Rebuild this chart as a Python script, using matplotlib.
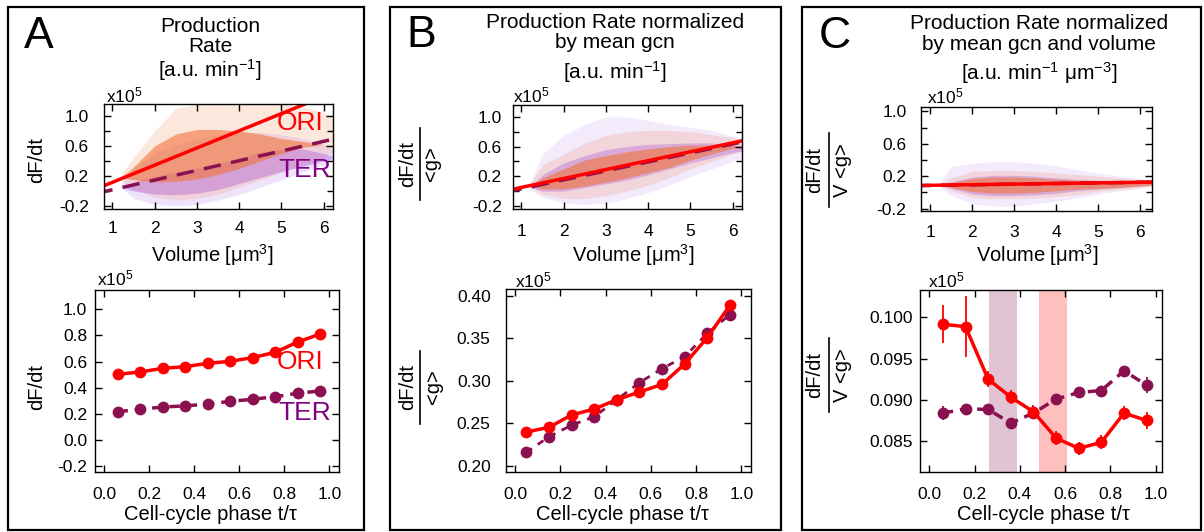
import matplotlib
matplotlib.use('Agg')
import matplotlib.pyplot as plt
import numpy as np
from matplotlib.lines import Line2D
from matplotlib.patches import Rectangle
from matplotlib.ticker import MultipleLocator, FormatStrFormatter, FixedLocator

plt.rcParams['font.family'] = ['Liberation Sans', 'DejaVu Sans']
plt.rcParams['mathtext.fontset'] = 'custom'
plt.rcParams['mathtext.rm'] = 'Liberation Sans'
plt.rcParams['mathtext.it'] = 'Liberation Sans:italic'
plt.rcParams['mathtext.default'] = 'regular'
plt.rcParams['axes.unicode_minus'] = False

# ---------------- data ----------------
phase_AC = [0.06, 0.16, 0.26, 0.36, 0.46, 0.56, 0.66, 0.76, 0.86, 0.96]
phase_B = [0.05, 0.15, 0.25, 0.35, 0.45, 0.55, 0.65, 0.75, 0.85, 0.95]

A_ori = [0.502, 0.520, 0.548, 0.561, 0.586, 0.602, 0.630, 0.671, 0.750, 0.811]
A_ter = [0.216, 0.234, 0.252, 0.260, 0.275, 0.295, 0.311, 0.331, 0.357, 0.375]

B_ori = [0.240, 0.2455, 0.260, 0.267, 0.278, 0.287, 0.296, 0.320, 0.351, 0.389]
B_ter = [0.216, 0.2345, 0.248, 0.258, 0.278, 0.298, 0.3145, 0.3286, 0.356, 0.378]

C_ori = [0.09916, 0.09887, 0.09252, 0.09035, 0.08858, 0.08540, 0.08416, 0.08488, 0.08842, 0.08753]
C_ori_err = [0.00227, 0.0037, 0.0010, 0.00085, 0.00087, 0.0008, 0.0008, 0.00085, 0.00087, 0.0010]
C_ter = [0.08842, 0.08894, 0.08886, 0.08721, 0.08842, 0.09011, 0.09091, 0.09115, 0.09353, 0.09180]
C_ter_err = [0.0008, 0.0005, 0.0005, 0.0005, 0.0005, 0.0005, 0.0005, 0.0005, 0.0005, 0.0010]

C_span_ter = (0.263, 0.387)
C_span_ori = (0.484, 0.607)

# linear fits (intercept, slope) vs volume
A_fit_ori = (-0.113, 0.229)
A_fit_ter = (-0.112, 0.129)
B_fit_ori = (-0.069, 0.120)
B_fit_ter = (-0.090, 0.121)
C_fit_ori = (0.080, 0.0075)
C_fit_ter = (0.078, 0.0078)

# scatter cloud envelopes: volume grid, outer & core bounds
vol_grid = [1.2, 1.5, 2.0, 2.5, 3.0, 3.5, 4.0, 4.5, 5.0, 5.5, 6.0, 6.3]

A_ori_out_lo = [0.15, 0.02, -0.08, -0.12, -0.10, -0.04, 0.05, 0.15, 0.25, 0.35, 0.45, 0.55]
A_ori_out_hi = [0.22, 0.45, 0.80, 1.10, 1.16, 1.16, 1.16, 1.16, 1.16, 1.12, 1.05, 0.95]
A_ori_core_lo = [0.18, 0.15, 0.12, 0.13, 0.16, 0.22, 0.30, 0.40, 0.50, 0.58, 0.62, 0.62]
A_ori_core_hi = [0.18, 0.32, 0.60, 0.76, 0.82, 0.82, 0.80, 0.76, 0.70, 0.66, 0.62, 0.62]
A_ter_out_lo = [0.05, -0.10, -0.18, -0.20, -0.18, -0.12, -0.05, 0.05, 0.15, 0.25, 0.35, 0.45]
A_ter_out_hi = [0.10, 0.30, 0.50, 0.62, 0.70, 0.75, 0.78, 0.78, 0.75, 0.70, 0.62, 0.55]
A_ter_core_lo = [0.05, 0.00, -0.04, -0.05, -0.03, 0.02, 0.10, 0.18, 0.26, 0.33, 0.40, 0.45]
A_ter_core_hi = [0.05, 0.12, 0.20, 0.25, 0.30, 0.36, 0.44, 0.52, 0.56, 0.56, 0.50, 0.45]

B_ori_out_lo = [0.05, -0.04, -0.10, -0.10, -0.06, 0.00, 0.08, 0.18, 0.30, 0.40, 0.50, 0.55]
B_ori_out_hi = [0.10, 0.35, 0.50, 0.65, 0.75, 0.80, 0.82, 0.82, 0.80, 0.76, 0.72, 0.68]
B_ori_core_lo = [0.07, 0.03, 0.03, 0.07, 0.12, 0.18, 0.25, 0.32, 0.42, 0.50, 0.58, 0.60]
B_ori_core_hi = [0.07, 0.18, 0.30, 0.42, 0.48, 0.53, 0.57, 0.60, 0.62, 0.62, 0.62, 0.60]
B_ter_out_lo = [0.02, -0.08, -0.16, -0.18, -0.16, -0.10, -0.02, 0.08, 0.20, 0.30, 0.40, 0.45]
B_ter_out_hi = [0.10, 0.50, 0.75, 0.90, 1.00, 1.00, 0.95, 0.90, 0.86, 0.82, 0.74, 0.70]
B_ter_core_lo = [0.05, 0.00, 0.00, 0.05, 0.10, 0.15, 0.22, 0.30, 0.38, 0.45, 0.52, 0.55]
B_ter_core_hi = [0.05, 0.22, 0.38, 0.48, 0.56, 0.60, 0.63, 0.64, 0.65, 0.65, 0.62, 0.60]

C_ori_out_lo = [0.08, 0.02, -0.06, -0.08, -0.08, -0.07, -0.05, -0.03, 0.01, 0.04, 0.06, 0.08]
C_ori_out_hi = [0.10, 0.18, 0.26, 0.27, 0.27, 0.26, 0.24, 0.22, 0.20, 0.18, 0.16, 0.13]
C_ori_core_lo = [0.09, 0.06, 0.01, -0.01, -0.01, 0.00, 0.02, 0.04, 0.05, 0.06, 0.08, 0.09]
C_ori_core_hi = [0.09, 0.12, 0.17, 0.19, 0.19, 0.18, 0.16, 0.15, 0.14, 0.13, 0.12, 0.11]
C_ter_out_lo = [0.08, -0.04, -0.14, -0.17, -0.17, -0.14, -0.11, -0.07, -0.02, 0.02, 0.05, 0.08]
C_ter_out_hi = [0.10, 0.32, 0.36, 0.38, 0.38, 0.36, 0.33, 0.28, 0.24, 0.20, 0.17, 0.14]
C_ter_core_lo = [0.09, 0.05, -0.02, -0.04, -0.04, -0.03, -0.01, 0.02, 0.04, 0.06, 0.08, 0.09]
C_ter_core_hi = [0.09, 0.13, 0.19, 0.21, 0.21, 0.20, 0.18, 0.16, 0.15, 0.14, 0.12, 0.11]

# ---------------- style ----------------
RED = '#ff0000'
TERC = '#8b1050'
TERTXT = '#800080'
ORANGE = '#f2733a'
PURPLE = '#9d55ee'

W, H = 1204, 532
fig = plt.figure(figsize=(W / 100, H / 100), dpi=100)


def rect(l, t, r, b):
    return [l / W, 1 - b / H, (r - l) / W, (b - t) / H]


def ftext(x, y, s, **kw):
    return fig.text(x / W, 1 - y / H, s, **kw)


def fline(x0, y0, x1, y1, lw=1.2):
    fig.add_artist(Line2D([x0 / W, x1 / W], [1 - y0 / H, 1 - y1 / H],
                          transform=fig.transFigure, color='black', lw=lw))


def frac_label(xn, xb, xd, yc, length, num, den, fs=14.5):
    ftext(xn, yc, num, rotation=90, ha='center', va='center', fontsize=fs)
    ftext(xd, yc, den, rotation=90, ha='center', va='center', fontsize=fs)
    fline(xb, yc - length / 2, xb, yc + length / 2)


def style(ax, ypad, xpad):
    ax.tick_params(direction='in', top=True, right=True, length=5, width=1,
                   labelsize=12.5)
    ax.tick_params(axis='y', pad=ypad)
    ax.tick_params(axis='x', pad=xpad)
    ax.tick_params(which='minor', direction='in', top=True, right=True,
                   length=4, width=1)
    for s in ax.spines.values():
        s.set_linewidth(1.0)


def cloud(ax, lo_o, hi_o, lo_c, hi_c, color, a_out, a_core):
    ax.fill_between(vol_grid, lo_o, hi_o, color=color, alpha=a_out, lw=0)
    ax.fill_between(vol_grid, lo_c, hi_c, color=color, alpha=a_core, lw=0)


def fitline(ax, fit, **kw):
    xs = np.array([0.6, 6.5])
    ax.plot(xs, fit[0] + fit[1] * xs, **kw)


def top_axes(ax, ylim):
    ax.set_xlim(0.8, 6.22)
    ax.set_ylim(*ylim)
    ax.xaxis.set_major_locator(FixedLocator([1, 2, 3, 4, 5, 6]))
    ax.yaxis.set_major_locator(FixedLocator([-0.2, 0.2, 0.6, 1.0]))
    ax.yaxis.set_minor_locator(FixedLocator([0.0, 0.4, 0.8]))
    ax.yaxis.set_major_formatter(FormatStrFormatter('%.1f'))


# panel boxes
for (l, r) in [(8, 364), (390, 781), (802, 1201)]:
    fig.add_artist(Rectangle((l / W, 1 - 530 / H), (r - l) / W, (530 - 7) / H,
                             transform=fig.transFigure, fill=False,
                             edgecolor='black', lw=1.6))

# ---------------- Panel A ----------------
axA1 = fig.add_axes(rect(104, 104, 333, 209))
cloud(axA1, A_ter_out_lo, A_ter_out_hi, A_ter_core_lo, A_ter_core_hi, PURPLE, 0.16, 0.4)
cloud(axA1, A_ori_out_lo, A_ori_out_hi, A_ori_core_lo, A_ori_core_hi, ORANGE, 0.17, 0.6)
fitline(axA1, A_fit_ori, color=RED, lw=2.5)
fitline(axA1, A_fit_ter, color=TERC, lw=2.5, dashes=(5, 3))
top_axes(axA1, (-0.24, 1.16))
style(axA1, 11, 9)

axA2 = fig.add_axes(rect(95, 290, 339, 472))
axA2.plot(phase_AC, A_ori, '-o', color=RED, lw=2.5, ms=8.5, mew=0)
axA2.plot(phase_AC, A_ter, 'o', color=TERC, ls=(0, (3, 2)), lw=2.5, ms=8.5, mew=0)
axA2.set_xlim(-0.04, 1.043)
axA2.set_ylim(-0.246, 1.148)
axA2.xaxis.set_major_locator(MultipleLocator(0.2))
axA2.yaxis.set_major_locator(FixedLocator([-0.2, 0.0, 0.2, 0.4, 0.6, 0.8, 1.0]))
axA2.xaxis.set_major_formatter(FormatStrFormatter('%.1f'))
axA2.yaxis.set_major_formatter(FormatStrFormatter('%.1f'))
style(axA2, 5.5, 11)

# ---------------- Panel B ----------------
axB1 = fig.add_axes(rect(513, 105, 742, 209))
cloud(axB1, B_ter_out_lo, B_ter_out_hi, B_ter_core_lo, B_ter_core_hi, PURPLE, 0.12, 0.35)
cloud(axB1, B_ori_out_lo, B_ori_out_hi, B_ori_core_lo, B_ori_core_hi, ORANGE, 0.17, 0.6)
fitline(axB1, B_fit_ter, color=TERC, lw=2.5, dashes=(5, 3))
fitline(axB1, B_fit_ori, color=RED, lw=2.5)
top_axes(axB1, (-0.24, 1.16))
style(axB1, 8, 11)

axB2 = fig.add_axes(rect(506, 289, 751, 472))
axB2.plot(phase_B, B_ter, 'o', color=TERC, ls=(0, (2.5, 2.5)), lw=2, ms=8.5, mew=0)
axB2.plot(phase_B, B_ori, '-o', color=RED, lw=2.5, ms=8.5, mew=0)
axB2.set_xlim(-0.04, 1.043)
axB2.set_ylim(0.193, 0.408)
axB2.xaxis.set_major_locator(MultipleLocator(0.2))
axB2.yaxis.set_major_locator(FixedLocator([0.20, 0.25, 0.30, 0.35, 0.40]))
axB2.xaxis.set_major_formatter(FormatStrFormatter('%.1f'))
axB2.yaxis.set_major_formatter(FormatStrFormatter('%.2f'))
style(axB2, 11, 11)

# ---------------- Panel C ----------------
axC1 = fig.add_axes(rect(921, 107, 1152, 211))
cloud(axC1, C_ter_out_lo, C_ter_out_hi, C_ter_core_lo, C_ter_core_hi, PURPLE, 0.12, 0.35)
cloud(axC1, C_ori_out_lo, C_ori_out_hi, C_ori_core_lo, C_ori_core_hi, ORANGE, 0.17, 0.6)
fitline(axC1, C_fit_ter, color=TERC, lw=2.5, dashes=(5, 3))
fitline(axC1, C_fit_ori, color=RED, lw=2.5)
top_axes(axC1, (-0.23, 1.055))
axC1.set_xlim(0.78, 6.28)
style(axC1, 10.5, 10)

axC2 = fig.add_axes(rect(920, 290, 1162, 472))
axC2.axvspan(*C_span_ter, color=TERC, alpha=0.25, lw=0)
axC2.axvspan(*C_span_ori, color=RED, alpha=0.25, lw=0)
axC2.errorbar(phase_AC, C_ter, yerr=C_ter_err, fmt='o', color=TERC, ls=(0, (3, 2)),
              lw=2.5, ms=8.5, mew=0, elinewidth=1.3, capsize=5, capthick=1.5)
axC2.errorbar(phase_AC, C_ori, yerr=C_ori_err, fmt='-o', color=RED,
              lw=2.5, ms=8.5, mew=0, elinewidth=1.3, capsize=5, capthick=1.5)
axC2.set_xlim(-0.041, 1.028)
axC2.set_ylim(0.0813, 0.1033)
axC2.xaxis.set_major_locator(MultipleLocator(0.2))
axC2.yaxis.set_major_locator(FixedLocator([0.085, 0.090, 0.095, 0.100]))
axC2.xaxis.set_major_formatter(FormatStrFormatter('%.1f'))
axC2.yaxis.set_major_formatter(FormatStrFormatter('%.3f'))
style(axC2, 5, 11)

# ---------------- texts ----------------
# panel letters
ftext(24, 48, 'A', fontsize=32, ha='left', va='baseline')
ftext(406, 47, 'B', fontsize=32, ha='left', va='baseline')
ftext(819, 48, 'C', fontsize=32, ha='left', va='baseline')

# titles
TFS = 15
ftext(210, 31.5, 'Production', fontsize=TFS, ha='center', va='baseline')
ftext(210, 51.5, 'Rate', fontsize=TFS, ha='center', va='baseline')
ftext(210, 77, '[a.u. min$^{-1}$]', fontsize=TFS, ha='center', va='baseline')
ftext(615, 28, 'Production Rate normalized', fontsize=TFS, ha='center', va='baseline')
ftext(615, 48, 'by mean gcn', fontsize=TFS, ha='center', va='baseline')
ftext(615, 79, '[a.u. min$^{-1}$]', fontsize=TFS, ha='center', va='baseline')
ftext(1039, 29, 'Production Rate normalized', fontsize=TFS, ha='center', va='baseline')
ftext(1039, 50, 'by mean gcn and volume', fontsize=TFS, ha='center', va='baseline')
ftext(1039, 80, '[a.u. min$^{-1}$ μm$^{-3}$]', fontsize=TFS, ha='center', va='baseline')

# x10^5 multipliers
for (x, y) in [(106, 102), (513, 102), (927, 103), (97, 285), (515, 287), (928, 287)]:
    ftext(x, y, 'x10$^5$', fontsize=12.5, ha='left', va='baseline')

# x labels
XFS = 14.5
for xc in [212, 633, 1037]:
    ftext(xc, 262, 'Volume [μm$^3$]', fontsize=XFS, ha='center', va='baseline')
for xc in [210, 622, 1043]:
    ftext(xc, 520, 'Cell-cycle phase t/τ', fontsize=XFS, ha='center', va='baseline')

# y labels
ftext(37, 160, 'dF/dt', rotation=90, fontsize=XFS, ha='center', va='center')
ftext(37, 387, 'dF/dt', rotation=90, fontsize=XFS, ha='center', va='center')
frac_label(408, 420, 432, 164, 72, 'dF/dt', '<g>')
frac_label(408, 420, 434, 387, 73, 'dF/dt', '<g>')
frac_label(815, 829, 843, 170, 74, 'dF/dt', 'V <g>')
frac_label(815, 829, 843, 375, 74, 'dF/dt', 'V <g>')

# series labels
ftext(323, 123, 'ORI', color=RED, fontsize=19, ha='right', va='center')
ftext(331, 170, 'TER', color=TERTXT, fontsize=19, ha='right', va='center')
ftext(323, 362, 'ORI', color=RED, fontsize=19, ha='right', va='center')
ftext(331, 413, 'TER', color=TERTXT, fontsize=19, ha='right', va='center')

fig.savefig('out.png', dpi=100)
